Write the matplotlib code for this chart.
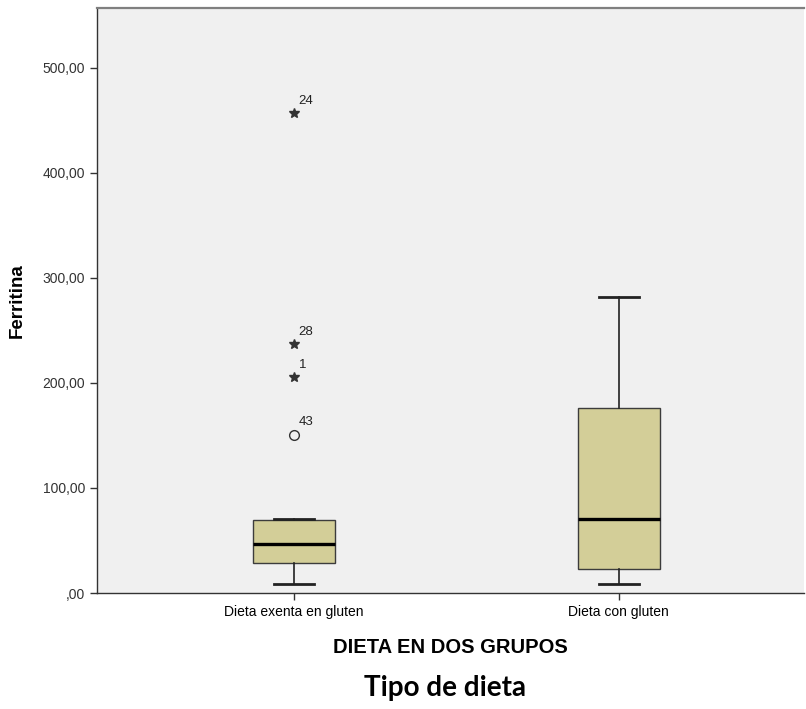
import matplotlib.pyplot as plt

# ferritin summary per diet group
grupos = ["Dieta exenta en gluten", "Dieta con gluten"]
minimo = [8.6, 8.3]
q1 = [28.5, 23.0]
mediana = [46.4, 70.5]
q3 = [69.5, 176.0]
maximo = [70.0, 281.5]

# outliers of the gluten-free group: (case id, value)
atipicos_caso = ["43"]
atipicos_val = [150.8]
extremos_caso = ["24", "28", "1"]
extremos_val = [457.0, 237.0, 205.7]

fig = plt.figure(figsize=(8.06, 7.09), dpi=100)
ax = fig.add_axes([0.1203, 0.1636, 0.8772, 0.8251])
ax.set_facecolor("#f0f0f0")

stats = []
for i in range(len(grupos)):
    stats.append(dict(whislo=minimo[i], q1=q1[i], med=mediana[i],
                      q3=q3[i], whishi=maximo[i], fliers=[]))

ax.bxp(stats, positions=[1, 2], widths=0.252, patch_artist=True,
       showfliers=False,
       boxprops=dict(facecolor="#d3ce98", edgecolor="#3c3c3c", linewidth=1.0),
       medianprops=dict(color="black", linewidth=2.4),
       whiskerprops=dict(color="#222222", linewidth=1.2),
       capprops=dict(color="#222222", linewidth=2.0),
       capwidths=0.123)

ax.plot([1] * len(atipicos_val), atipicos_val, linestyle="none", marker="o",
        markersize=7, markerfacecolor="none", markeredgecolor="#333333",
        markeredgewidth=1.0)
ax.plot([1] * len(extremos_val), extremos_val, linestyle="none", marker="*",
        markersize=7, color="#333333")

for caso, val in zip(atipicos_caso + extremos_caso, atipicos_val + extremos_val):
    ax.annotate(caso, (1, val), xytext=(3.5, 8.8), textcoords="offset points",
                fontsize=9.5, family="Liberation Sans", color="#222222",
                va="center")

ax.set_xlim(0.394, 2.570)
ax.set_ylim(0, 557)
ax.set_xticks([1, 2])
ax.set_xticklabels(grupos, family="Liberation Sans", fontsize=10)
ax.set_yticks(range(0, 501, 100))
ax.set_yticklabels([",00"] + [f"{v},00" for v in range(100, 501, 100)],
                   family="Liberation Sans", fontsize=10, color="#333333")
ax.tick_params(axis="both", direction="out", length=5, width=1, color="#333333")
for s in ["left", "bottom"]:
    ax.spines[s].set_color("#333333")
    ax.spines[s].set_linewidth(1.0)
ax.spines["top"].set_color("#808080")
ax.spines["top"].set_linewidth(1.6)
ax.spines["right"].set_visible(False)

ax.set_ylabel("Ferritina", family="Liberation Sans", fontweight="bold",
              fontsize=13.5, labelpad=12)
ax.set_xlabel("DIETA EN DOS GRUPOS", family="Liberation Sans",
              fontweight="bold", fontsize=14.5, labelpad=14)

fig.text(0.552, 0.0296, "Tipo de dieta", family="Lato", fontweight="bold",
         fontsize=20, ha="center", va="center")

fig.savefig("out.png", dpi=100)
